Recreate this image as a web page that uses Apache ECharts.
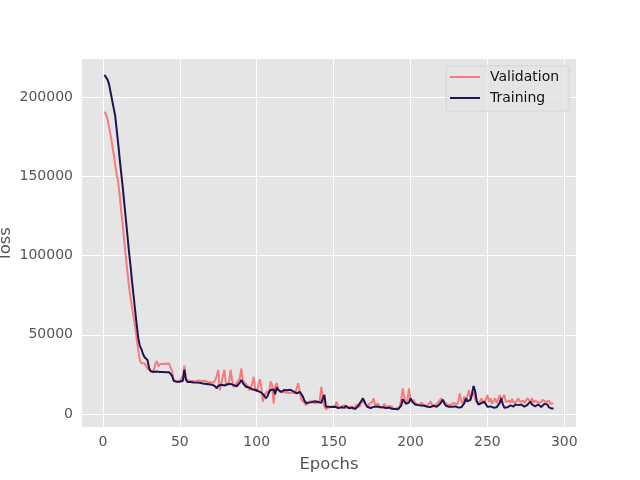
<!DOCTYPE html>
<html>
<head>
<meta charset="utf-8">
<script src="https://cdn.jsdelivr.net/npm/echarts@6/dist/echarts.min.js"></script>
<style>
  html, body { margin: 0; padding: 0; background: #fff; }
  #chart { width: 640px; height: 480px; }
</style>
</head>
<body>
<div id="chart"></div>
<script>
// loss per epoch (epochs 1..293)
const training = [
  214000, 213000, 211000, 208000, 203000, 198000, 193000, 188000, 179000, 170000,
  160000, 151000, 142000, 132000, 122000, 112000, 102000, 93000, 83000, 74000,
  65000, 56000, 48000, 43000, 41000, 38000, 36000, 35000, 34000, 29000,
  27000, 27500, 26500, 27200, 26800, 27500, 26500, 26800, 26500, 26400,
  26300, 26200, 26400, 26000, 24000, 21000, 20500, 20300, 20000, 20400,
  20200, 21000, 28000, 21500, 20200, 20000, 20200, 19800, 19900, 19700,
  19800, 19500, 19700, 19400, 19200, 19600, 19000, 19200, 18800, 18900,
  18500, 18700, 17500, 16200, 17800, 18200, 18500, 17600, 18000, 17300,
  18800, 18200, 19000, 19400, 18200, 18000, 17500, 18600, 19800, 21500,
  19500, 18300, 17200, 17600, 16800, 16200, 15600, 15800, 15100, 15800,
  14500, 14000, 13500, 13000, 11500, 9900, 11200, 13800, 15200, 16200,
  15500, 12500, 16800, 15200, 14600, 14000, 14800, 15200, 14500, 15000,
  16000, 15300, 14800, 14200, 13700, 13000, 13600, 14000, 13000, 11000,
  8500, 7000, 6700, 7200, 7800, 7500, 7800, 8000, 7400, 7600,
  7200, 7000, 10000, 12000, 4600, 4200, 4500, 3800, 4400, 4000,
  4600, 4300, 3700, 4800, 4200, 3500, 3900, 5200, 4100, 3600,
  3300, 4000, 3800, 3200, 4400, 5000, 6800, 8200, 9900, 8800,
  6000, 4600, 4000, 3800, 4200, 4500, 3900, 4700, 5200, 4400,
  3900, 4200, 4600, 3800, 3500, 4000, 3700, 3300, 3600, 3200,
  3500, 3000, 3000, 5500, 9300, 9900, 6500, 5800, 7200, 9900,
  8000, 7000, 6000, 6400, 5600, 5000, 5400, 4800, 5200, 4900,
  4600, 5000, 4400, 4700, 5200, 4800, 4500, 5300, 6200, 7600,
  9000, 6800, 5200, 5000, 4600, 4400, 4600, 4200, 4800, 4400,
  4100, 4600, 4200, 4800, 6800, 9900, 8000, 7000, 9000, 13000,
  17700, 14500, 8500, 6000, 5200, 6800, 6000, 7800, 6200, 4600,
  4400, 4800, 4200, 4000, 4500, 4200, 5000, 7000, 10000, 6200,
  4000, 3600, 4200, 4800, 5500, 5000, 4600, 6000, 5200, 5600,
  6200, 6000, 5000, 4600, 5200, 5800, 6500, 7800, 6000, 5200,
  4800, 5600, 6000, 4800, 4400, 5200, 6400, 5600, 6000, 4200,
  3500, 3400, 3600
];

const validation = [
  190700, 189000, 186000, 181000, 176000, 170000, 164000, 157000, 151000, 146000,
  137000, 127000, 118000, 108000, 98000, 89000, 80000, 73000, 67000, 61000,
  55000, 47000, 40000, 34000, 32000, 31000, 32000, 30500, 28500, 28000,
  27500, 28500, 27000, 31500, 33500, 30000, 31500, 31800, 31500, 32000,
  31700, 31600, 31800, 31000, 27000, 21500, 20800, 20500, 20300, 20800,
  21000, 24000, 30500, 22000, 21500, 21000, 21200, 20800, 21300, 20500,
  20800, 21200, 20500, 20900, 20300, 21000, 20600, 20200, 20800, 20000,
  20400, 19800, 21500, 24000, 27800, 15000, 19000, 24000, 27800, 18000,
  17500, 20000, 27800, 21000, 17000, 16000, 19500, 20500, 22500, 28800,
  21000, 20500, 19000, 17500, 15000, 16500, 18500, 23500, 16000, 14000,
  18000, 22000, 16500, 7800, 12000, 11000, 14500, 13000, 20400, 18500,
  6700, 17000, 19500, 15500, 14000, 15200, 13800, 14500, 13500, 14200,
  13200, 12800, 13500, 12500, 13000, 14000, 19400, 14000, 9000, 8500,
  7000, 5500, 6000, 7500, 6500, 8500, 7000, 6200, 6800, 7500,
  8500, 17200, 10000, 5000, 3000, 3500, 4200, 3200, 4600, 3800,
  5000, 7800, 4200, 3200, 4800, 3600, 5600, 4000, 3400, 4200,
  3200, 4800, 2800, 4400, 6000, 5200, 4600, 7000, 8500, 7200,
  5500, 4200, 6200, 5000, 7500, 9900, 5500, 4800, 6500, 4000,
  5200, 4200, 6500, 4400, 3600, 5000, 3800, 4600, 3200, 4200,
  3600, 3400, 4500, 9500, 16200, 10500, 7000, 8500, 16200, 9500,
  7500, 9000, 7000, 8000, 5500, 6200, 7000, 6000, 5600, 6800,
  5200, 6500, 8000, 5800, 6200, 5400, 6600, 7200, 6000, 9900,
  9000, 7500, 6800, 6000, 6500, 5800, 6200, 7000, 6400, 6000,
  7500, 13000, 8000, 6500, 11000, 7500, 8500, 15100, 9000, 12000,
  14000, 9500, 7500, 8500, 7000, 9900, 8000, 6500, 7000, 12000,
  7500, 10000, 6500, 7000, 10000, 6800, 7500, 12000, 9000, 8000,
  12000, 7500, 6500, 8500, 7200, 9500, 7000, 6500, 8000, 10000,
  7600, 7000, 8500, 6800, 8000, 10000, 9000, 7500, 10000, 7200,
  8500, 9000, 7000, 8000, 7500, 9000, 9900, 7500, 7000, 8500,
  6500, 7200, 6800
];

const xTicks = [0, 50, 100, 150, 200, 250, 300];
const yTicks = [0, 50000, 100000, 150000, 200000];

const toPairs = (arr) => arr.map((v, i) => [i + 1, v]);

const chart = echarts.init(document.getElementById('chart'));

// white ggplot-style grid lines at the tick values
const gridLine = (axis, vals) => vals.map((v) => ({ [axis]: v }));

chart.setOption({
  animation: false,
  backgroundColor: '#ffffff',
  textStyle: { fontFamily: 'DejaVu Sans' },
  grid: {
    left: 82, right: 64, top: 59, bottom: 53,
    outerBoundsMode: 'none',
    containLabel: false,
    show: true, backgroundColor: '#E5E5E5', borderWidth: 0
  },
  legend: {
    orient: 'vertical',
    left: 446, top: 66,
    z: 20,
    padding: [4, 10, 6, 4],
    icon: 'rect',
    itemWidth: 30, itemHeight: 2, itemGap: 7,
    backgroundColor: 'rgba(229,229,229,0.8)',
    borderColor: '#d4d4d4', borderWidth: 1, borderRadius: 3,
    textStyle: { fontSize: 14, color: '#111', fontFamily: 'DejaVu Sans', padding: [0, 0, 0, 5] },
    data: ['Validation', 'Training']
  },
  xAxis: {
    type: 'value',
    min: -13.6, max: 307.6,
    name: 'Epochs', nameLocation: 'middle', nameGap: 29,
    nameTextStyle: { fontSize: 16.5, color: '#555' },
    axisLine: { show: false },
    axisTick: { show: true, customValues: xTicks, length: 5, lineStyle: { color: '#555', width: 1 } },
    axisLabel: { customValues: xTicks, fontSize: 14, color: '#555', margin: 8 },
    splitLine: { show: false }
  },
  yAxis: {
    type: 'value',
    min: -8200, max: 224000,
    name: 'loss', nameLocation: 'middle', nameGap: 68,
    nameMoveOverlap: false,
    nameTextStyle: { fontSize: 16.5, color: '#555' },
    axisLine: { show: false },
    axisTick: { show: true, customValues: yTicks, length: 5, lineStyle: { color: '#555', width: 1 } },
    axisLabel: { customValues: yTicks, fontSize: 14, color: '#555', margin: 9, formatter: (v) => String(v) },
    splitLine: { show: false }
  },
  series: [
    {
      name: 'Validation',
      type: 'line',
      data: toPairs(validation),
      symbol: 'none',
      lineStyle: { color: '#F87B7B', width: 2 },
      itemStyle: { color: '#F87B7B' },
      z: 3,
      markLine: {
        silent: true, symbol: 'none', animation: false,
        z: 1,
        label: { show: false },
        lineStyle: { color: '#ffffff', width: 1.1, type: 'solid' },
        data: gridLine('xAxis', xTicks).concat(gridLine('yAxis', yTicks))
      }
    },
    {
      name: 'Training',
      type: 'line',
      data: toPairs(training),
      symbol: 'none',
      lineStyle: { color: '#1F1450', width: 2 },
      itemStyle: { color: '#1F1450' },
      z: 4
    }
  ]
});
</script>
</body>
</html>
